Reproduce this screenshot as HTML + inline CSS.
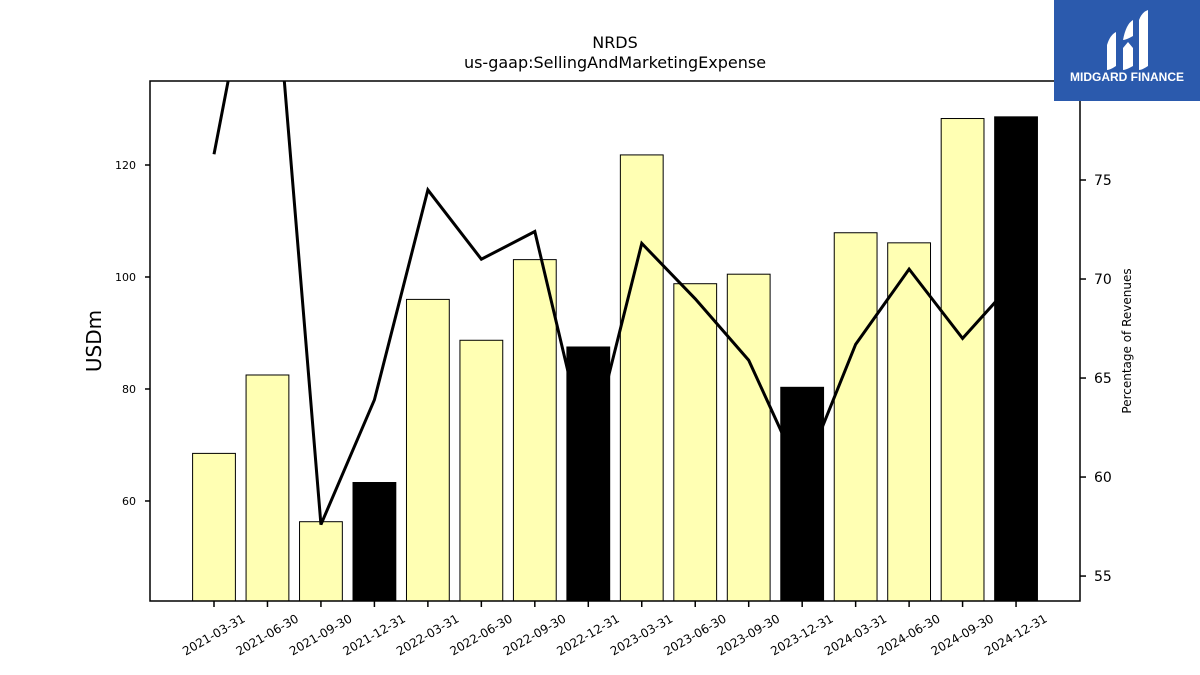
<!DOCTYPE html>
<html><head><meta charset="utf-8"><style>
body{margin:0;background:#fff;}
svg{display:block;font-family:"DejaVu Sans","Liberation Sans",sans-serif;}
</style></head><body>
<svg id="chart" width="1200" height="675" viewBox="0 0 1200 675" xmlns="http://www.w3.org/2000/svg">
<text x="615" y="48" font-size="16" text-anchor="middle">NRDS</text>
<text x="615" y="68" font-size="16" text-anchor="middle">us-gaap:SellingAndMarketingExpense</text>
<g id="bars"></g>
<g id="line"></g>
<rect x="150" y="81" width="930" height="520" fill="none" stroke="#000" stroke-width="1.5"/>
<g id="xaxis"></g>
<g id="yaxis"></g>
<g id="y2axis"></g>
<text transform="translate(101,341) rotate(-90)" font-size="20" text-anchor="middle">USDm</text>
<text transform="translate(1131,341) rotate(-90)" font-size="12" text-anchor="middle">Percentage of Revenues</text>
<g>
<rect x="1054" y="0" width="146" height="101" fill="#2b5aad"/>
<path d="M1107 45 Q1110 35 1116 32 L1116 66 Q1110 70 1107 70 Z" fill="#fff"/>
<path d="M1123 40 Q1126 24 1133 20 L1133 36 Q1126 40 1123 40 Z M1123 48 L1128 42 L1133 48 L1133 66 Q1126 70 1123 70 Z" fill="#fff"/>
<path d="M1139 20 Q1142 12 1148 10 L1148 66 Q1142 70 1139 70 Z" fill="#fff"/>
<text x="1127" y="81" font-size="12" font-weight="bold" fill="#fff" text-anchor="middle" font-family="Liberation Sans, sans-serif">MIDGARD FINANCE</text>
</g>
</svg>
<script>
const categories=["2021-03-31","2021-06-30","2021-09-30","2021-12-31","2022-03-31","2022-06-30","2022-09-30","2022-12-31","2023-03-31","2023-06-30","2023-09-30","2023-12-31","2024-03-31","2024-06-30","2024-09-30","2024-12-31"];
const expense=[68.5,82.5,56.3,63.3,96.0,88.7,103.1,87.5,121.8,98.8,100.5,80.3,107.9,106.1,128.3,128.6];
const annual=[false,false,false,true,false,false,false,true,false,false,false,true,false,false,false,true];
const pctRevenue=[76.3,90.3,57.6,63.9,74.5,71.0,72.4,61.0,71.8,69.0,65.9,60.0,66.7,70.5,67.0,70.0];
const leftTicks=[60,80,100,120];
const rightTicks=[55,60,65,70,75];
const NS="http://www.w3.org/2000/svg";
const L=150,R=1080,T=81,B=601;
const yMin=42.14,yMax=135,y2Min=53.74,y2Max=80;
const x=i=>214+i*53.47;
const y=v=>B-(v-yMin)/(yMax-yMin)*(B-T);
const y2=v=>B-(v-y2Min)/(y2Max-y2Min)*(B-T);
function mk(tag,attrs,parent){const e=document.createElementNS(NS,tag);for(const k in attrs)e.setAttribute(k,attrs[k]);parent.appendChild(e);return e;}
const bars=document.getElementById('bars');
expense.forEach((v,i)=>{
 const r=mk('rect',{x:x(i)-21.4,y:y(v),width:42.8,height:B-y(v),fill:annual[i]?'#000':'#ffffb3',stroke:'#000','stroke-width':1},bars);
 
 
});
const lineG=document.getElementById('line');
const defs=mk('defs',{},lineG);
const cp=mk('clipPath',{id:'clip'},defs);
mk('rect',{x:L,y:T,width:R-L,height:B-T},cp);
const pl=mk('polyline',{points:pctRevenue.map((v,i)=>x(i)+','+y2(v)).join(' '),fill:'none',stroke:'#000','stroke-width':3,'clip-path':'url(#clip)'},lineG);


const xa=document.getElementById('xaxis');
categories.forEach((c,i)=>{
 mk('line',{x1:x(i),x2:x(i),y1:B,y2:B+6,stroke:'#000','stroke-width':1.5},xa);
 const t=mk('text',{transform:`translate(${x(i)+32},${B+20}) rotate(-30)`,'font-size':12,'text-anchor':'end'},xa);
 t.textContent=c;
 
 
});
const ya=document.getElementById('yaxis');
leftTicks.forEach(v=>{
 mk('line',{x1:L-5,x2:L,y1:y(v),y2:y(v),stroke:'#000','stroke-width':1.5},ya);
 const t=mk('text',{x:L-14,y:y(v)+4,'font-size':11,'text-anchor':'end'},ya);
 t.textContent=v;
 
 
});
const y2a=document.getElementById('y2axis');
rightTicks.forEach(v=>{
 mk('line',{x1:R,x2:R+6,y1:y2(v),y2:y2(v),stroke:'#000','stroke-width':1.5},y2a);
 const t=mk('text',{x:R+14,y:y2(v)+5,'font-size':14},y2a);
 t.textContent=v;
 
 
});
</script>
</body></html>
